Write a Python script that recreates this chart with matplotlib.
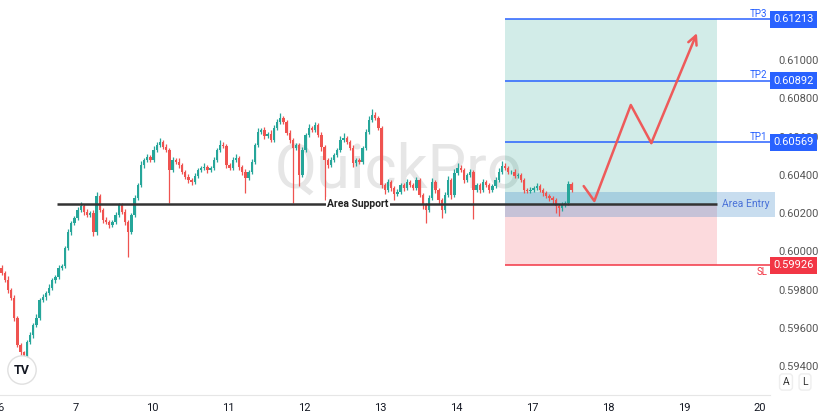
import matplotlib
matplotlib.use("Agg")
import matplotlib.pyplot as plt
import matplotlib.transforms as mtransforms
from matplotlib.patches import Rectangle
import numpy as np

plt.rcParams['font.family'] = ['Roboto', 'DejaVu Sans']

# 1H candles, closes (open = previous close)
first_open = 0.59913
closes = [
    0.59886, 0.59850, 0.59798, 0.59756, 0.59651, 0.59510, 0.59473, 0.59452, 0.59526, 0.59562,
    0.59615, 0.59651, 0.59745, 0.59761, 0.59782, 0.59808, 0.59850, 0.59866, 0.59913, 0.59923,
    0.60017, 0.60101, 0.60148, 0.60174, 0.60216, 0.60237, 0.60205, 0.60190, 0.60200, 0.60101,
    0.60289, 0.60216, 0.60164, 0.60153, 0.60137, 0.60153, 0.60190, 0.60242, 0.60205, 0.60153,
    0.60101, 0.60190, 0.60279, 0.60347, 0.60451, 0.60477, 0.60493, 0.60477, 0.60530, 0.60556,
    0.60571, 0.60545, 0.60530, 0.60425, 0.60477, 0.60467, 0.60451, 0.60415, 0.60388, 0.60373,
    0.60362, 0.60394, 0.60425, 0.60436, 0.60441, 0.60425, 0.60436, 0.60477, 0.60530, 0.60556,
    0.60550, 0.60451, 0.60436, 0.60477, 0.60488, 0.60441, 0.60415, 0.60383, 0.60415, 0.60467,
    0.60556, 0.60624, 0.60634, 0.60603, 0.60613, 0.60582, 0.60645, 0.60676, 0.60697, 0.60676,
    0.60619, 0.60582, 0.60540, 0.60556, 0.60399, 0.60530, 0.60608, 0.60645, 0.60634, 0.60660,
    0.60608, 0.60545, 0.60477, 0.60451, 0.60477, 0.60503, 0.60530, 0.60582, 0.60592, 0.60571,
    0.60540, 0.60462, 0.60477, 0.60467, 0.60540, 0.60624, 0.60687, 0.60713, 0.60697, 0.60645,
    0.60347, 0.60320, 0.60362, 0.60331, 0.60300, 0.60310, 0.60347, 0.60331, 0.60362, 0.60347,
    0.60331, 0.60373, 0.60294, 0.60242, 0.60216, 0.60279, 0.60362, 0.60320, 0.60268, 0.60216,
    0.60294, 0.60373, 0.60294, 0.60409, 0.60436, 0.60425, 0.60373, 0.60399, 0.60415, 0.60320,
    0.60347, 0.60320, 0.60362, 0.60347, 0.60320, 0.60341, 0.60373, 0.60415, 0.60446, 0.60436,
    0.60415, 0.60415, 0.60394, 0.60399, 0.60373, 0.60320, 0.60315, 0.60320, 0.60331, 0.60341,
    0.60320, 0.60305, 0.60289, 0.60279, 0.60268, 0.60237, 0.60226, 0.60242, 0.60253, 0.60352,
    0.60320,
]
# wick lengths in pips beyond the body
upper_pips = [
    1.5, 1, 2, 1, 1.5, 1, 1, 0.5, 1, 1.5, 1, 2, 1, 1.5, 1, 2, 1, 1, 1.5, 1,
    1, 1.5, 1, 1, 1.5, 2, 1, 1.5, 1, 1.5, 2, 1, 1, 1.5, 1, 1, 1.5, 1, 1, 1.5,
    1, 1, 1.5, 1, 2, 1, 1.5, 1, 2, 1.5, 2, 1, 1.5, 1, 1.5, 1, 2, 1, 1, 1.5,
    1, 1.5, 1, 1, 2, 1, 1, 1.5, 1, 2.5, 1.5, 1, 1, 1.5, 2, 1, 1, 1.5, 1, 1.5,
    1, 2, 1, 1.5, 1, 2, 1.5, 1.5, 2.5, 1, 1, 1.5, 1, 1, 1, 1.5, 1, 2, 1, 1.5,
    1, 1.5, 1, 1, 1.5, 1, 1, 2, 2.5, 1, 1, 1.5, 1, 1, 1, 1.5, 2, 3, 1.5, 1,
    1, 1, 1.5, 1, 1, 1.5, 1, 1, 1.5, 1, 1, 1.5, 1, 1, 1, 1.5, 2, 1, 1, 1,
    1.5, 2, 1, 2, 2.5, 1.5, 1, 1, 1.5, 1, 1, 1, 1.5, 1, 1, 1, 1.5, 2, 2.5, 1.5,
    1, 1, 1.5, 1, 1, 1, 1, 1.5, 1, 1.5, 1, 1, 1, 1, 1, 1, 1, 1.5, 1, 1.5,
    1,
]
lower_pips = [
    1, 1, 1.5, 1, 1.5, 1, 2, 2, 1, 1, 1.5, 1, 1, 1, 1.5, 1, 1, 1.5, 1, 1,
    1, 1, 1.5, 1, 1, 1, 1.5, 1, 1, 2, 1.5, 1, 1.5, 1, 1.5, 1, 1, 1, 1, 1.5,
    13, 1, 1, 1, 1, 1.5, 1, 1, 1, 1, 1, 1, 1, 17, 1, 1, 1.5, 1, 1, 1.5,
    1.5, 1, 1, 1, 1, 1.5, 1, 1, 1, 1, 1, 1.5, 1, 1, 1, 1.5, 1.5, 8, 1, 1,
    1, 1, 1, 1.5, 1, 1, 1, 1, 1, 1, 1, 1.5, 29, 1, 6, 1, 1, 1, 1, 1,
    1, 2, 21, 1.5, 1, 1, 1, 1, 1, 1, 1, 2, 1.5, 1, 1, 1, 1, 1, 1, 1,
    1.5, 2, 1, 1.5, 3, 1, 1, 1.5, 1, 1, 1, 1, 1, 2, 7, 1, 1, 1.5, 2, 4,
    1.5, 1, 2, 1, 1, 1, 1.5, 1, 1, 15, 1, 1.5, 1, 1, 1.5, 1, 1, 1, 1, 1,
    1, 1, 1, 1, 1, 1.5, 1, 1, 1, 1, 1, 1.5, 1, 1.5, 2, 3.5, 4, 1.5, 1, 1,
    1,
]

day_labels = ['6', '7', '10', '11', '12', '13', '14', '17', '18', '19', '20']
price_ticks = [0.594, 0.596, 0.598, 0.600, 0.602, 0.604, 0.606, 0.608, 0.610]

support = 0.60247
entry_top, entry_bottom = 0.60310, 0.60180
tp_levels = [0.60569, 0.60892, 0.61213]
tp_names = ['TP1', 'TP2', 'TP3']
sl_level = 0.59926

# projected path (day units, price)
path_days = [7.68, 7.82, 8.30, 8.57, 9.17]
path_prices = [0.60341, 0.60263, 0.60765, 0.60566, 0.61141]

GREEN = '#26a69a'
RED = '#ef5350'
BLUE = '#2962ff'
SLRED = '#f23645'

closes = np.array(closes)
opens = np.concatenate([[first_open], closes[:-1]])
highs = np.maximum(opens, closes) + np.array(upper_pips) * 0.0001
lows = np.minimum(opens, closes) - np.array(lower_pips) * 0.0001
xs = (np.arange(len(closes)) + 0.5) / 24
cols = [GREEN if c >= o else RED for o, c in zip(opens, closes)]

fig = plt.figure(figsize=(8.2, 4.16), dpi=100)
ax = fig.add_axes([0, 21 / 416, 770 / 820, 395 / 416])
ax.set_xlim(0, 770 / 76)
ax.set_ylim(0.592485, 0.61314)

# watermark
ax.text(5.24, 0.60420, 'QuickPro', fontsize=44, color='#e6e6e6', ha='center', va='center', zorder=1)

# candles
ax.vlines(xs, lows, highs, colors=cols, lw=0.9, zorder=3)
ax.bar(xs, np.maximum(np.abs(closes - opens), 0.00002), bottom=np.minimum(opens, closes),
       width=0.75 / 24, color=cols, zorder=4)

# position tool
zone_start, zone_end = 6.645, 9.43
ax.add_patch(Rectangle((zone_start, support), zone_end - zone_start, tp_levels[-1] - support,
                       fc='#089981', alpha=0.18, ec='none', zorder=2))
ax.add_patch(Rectangle((zone_start, sl_level), zone_end - zone_start, support - sl_level,
                       fc=SLRED, alpha=0.18, ec='none', zorder=2))
ax.add_patch(Rectangle((zone_start, entry_bottom), 10.2 - zone_start, entry_top - entry_bottom,
                       fc='#3a86c8', alpha=0.28, ec='none', zorder=2.5, clip_on=False))
ax.text(9.5, support, 'Area Entry', fontsize=7.5, color='#4a72d8', ha='left', va='center', zorder=6)

trans = mtransforms.blended_transform_factory(ax.transAxes, ax.transData)
for lvl, name in zip(tp_levels, tp_names):
    ax.hlines(lvl, zone_start, 10.132, color=BLUE, lw=1.1, zorder=5)
    ax.text(10.1, lvl + 0.00004, name, fontsize=7, color=BLUE, ha='right', va='bottom', zorder=6)
    ax.text(1.0045, lvl, f'{lvl:.5f}', transform=trans, fontsize=8, color='white', ha='left',
            va='center', clip_on=False, zorder=10,
            bbox=dict(boxstyle='square,pad=0.3', fc=BLUE, ec='none'))
ax.hlines(sl_level, zone_start, 10.132, color=SLRED, lw=1.1, zorder=5)
ax.text(10.1, sl_level - 0.00006, 'SL', fontsize=7, color=SLRED, ha='right', va='top', zorder=6)
ax.text(1.0045, sl_level, f'{sl_level:.5f}', transform=trans, fontsize=8, color='white', ha='left',
        va='center', clip_on=False, zorder=10,
        bbox=dict(boxstyle='square,pad=0.3', fc=SLRED, ec='none'))

# support line
ax.hlines(support, 0.75, zone_end, color='#333333', lw=1.8, zorder=5)
ax.text(4.71, support, 'Area Support', fontsize=7.5, fontweight='bold', color='#222222',
        ha='center', va='center', zorder=6,
        bbox=dict(boxstyle='square,pad=0.15', fc='white', ec='none'))

# projected zigzag
ax.plot(path_days[:-1], path_prices[:-1], color='#ee5a5a', lw=1.8, zorder=6, solid_capstyle='round')
ax.annotate('', xy=(path_days[-1], path_prices[-1]), xytext=(path_days[-2], path_prices[-2]),
            arrowprops=dict(arrowstyle='->', color='#ee5a5a', lw=1.8, mutation_scale=16,
                            shrinkA=0, shrinkB=0), zorder=6)

# axes styling
for s in ['top', 'left', 'right']:
    ax.spines[s].set_visible(False)
ax.spines['bottom'].set_color('#e6e6e6')
ax.set_xticks(range(len(day_labels)))
ax.set_xticklabels(day_labels)
ax.tick_params(axis='x', length=0, pad=6, labelsize=8, labelcolor='#131722')
ax.yaxis.tick_right()
ax.set_yticks(price_ticks)
ax.set_yticklabels([f'{p:.5f}' for p in price_ticks])
ax.tick_params(axis='y', length=0, pad=6, labelsize=8, labelcolor='#555555')

# logo and buttons
fig.text(22 / 820, 1 - 370 / 416, 'TV', fontsize=9, fontweight='bold', color='#131722',
         ha='center', va='center',
         bbox=dict(boxstyle='circle,pad=0.5', fc='white', ec='#e0e0e0'))
fig.text(786 / 820, 1 - 382 / 416, 'A', fontsize=7.5, color='#333333', ha='center', va='center',
         bbox=dict(boxstyle='round,pad=0.3', fc='white', ec='#eeeeee'))
fig.text(805 / 820, 1 - 382 / 416, 'L', fontsize=7.5, color='#333333', ha='center', va='center',
         bbox=dict(boxstyle='round,pad=0.3', fc='white', ec='#eeeeee'))

fig.savefig('out.png', dpi=100)
